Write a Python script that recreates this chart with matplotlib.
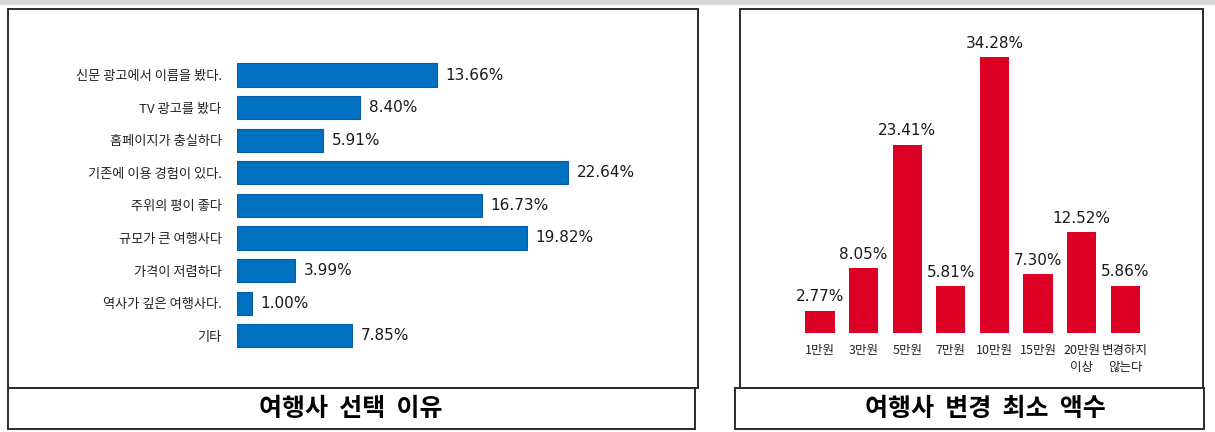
import matplotlib.pyplot as plt
from matplotlib.patches import Rectangle

plt.rcParams['font.family'] = ['Noto Sans CJK KR', 'DejaVu Sans']

# 여행사 선택 이유 (가로 막대)
reasons = ['신문 광고에서 이름을 봤다.', 'TV 광고를 봤다', '홈페이지가 충실하다',
           '기존에 이용 경험이 있다.', '주위의 평이 좋다', '규모가 큰 여행사다',
           '가격이 저렴하다', '역사가 깊은 여행사다.', '기타']
reason_pct = [13.66, 8.40, 5.91, 22.64, 16.73, 19.82, 3.99, 1.00, 7.85]

# 여행사 변경 최소 액수 (세로 막대)
amounts = ['1만원', '3만원', '5만원', '7만원', '10만원', '15만원', '20만원\n이상', '변경하지\n않는다']
amount_pct = [2.77, 8.05, 23.41, 5.81, 34.28, 7.30, 12.52, 5.86]

W, H = 1215, 432
fig = plt.figure(figsize=(W / 100, H / 100), dpi=100)


def fx(px):
    return px / W


def fy(py):
    return 1 - py / H


def box(x0, y0, x1, y1, lw=1.4):
    fig.add_artist(Rectangle((fx(x0), fy(y1)), fx(x1) - fx(x0), fy(y0) - fy(y1),
                             transform=fig.transFigure, fill=False,
                             edgecolor='#2b2b2b', linewidth=lw))


# thin grey strip along the top
fig.add_artist(Rectangle((0, fy(5)), 1, fy(0) - fy(5), transform=fig.transFigure,
                         facecolor='#d9d9d9', edgecolor='none'))

# panel frames and caption boxes
box(8, 9, 698, 388)
box(8, 388, 695, 429)
box(740, 9, 1203, 388)
box(735, 388, 1204, 429)

fig.text(fx(351), fy(409), '여행사  선택  이유', ha='center', va='center',
         fontsize=18, fontweight='bold')
fig.text(fx(985), fy(409), '여행사  변경  최소  액수', ha='center', va='center',
         fontsize=18, fontweight='bold')

# left: horizontal bars
top_px, bot_px = 10, 387
ax1 = fig.add_axes([fx(237), fy(bot_px), fx(690) - fx(237), fy(top_px) - fy(bot_px)])
ypos = list(range(len(reasons)))
ax1.barh(ypos, reason_pct, height=0.71, color='#0070c0', edgecolor='#0b5ca6', linewidth=0.8)
ax1.set_xlim(0, (690 - 237) / 14.63)
ax1.set_ylim((bot_px - 75) / 32.6, (top_px - 75) / 32.6)
ax1.set_yticks(ypos)
ax1.set_yticklabels(reasons, fontsize=9.5, color='#222222')
ax1.tick_params(axis='y', length=0, pad=11)
ax1.set_xticks([])
for s in ax1.spines.values():
    s.set_visible(False)
ax1.patch.set_alpha(0)
for y, v in zip(ypos, reason_pct):
    ax1.text(v + 0.6, y, f'{v:.2f}%', va='center', ha='left', fontsize=11,
             family='DejaVu Sans', color='#1a1a1a')

# right: vertical bars
base_px = 333
ax2 = fig.add_axes([fx(740), fy(base_px), fx(1203) - fx(740), fy(top_px) - fy(base_px)])
xpos = list(range(len(amounts)))
ax2.bar(xpos, amount_pct, width=0.67, color='#dc0024', edgecolor='none')
ax2.set_xlim((740 - 820) / 43.6, (1203 - 820) / 43.6)
ax2.set_ylim(0, (base_px - top_px) / 8.04)
ax2.set_xticks(xpos)
ax2.set_xticklabels(amounts, fontsize=9, color='#222222', linespacing=1.35)
ax2.tick_params(axis='x', length=0, pad=8)
ax2.set_yticks([])
for s in ax2.spines.values():
    s.set_visible(False)
ax2.patch.set_alpha(0)
for x, v in zip(xpos, amount_pct):
    ax2.text(x, v + 0.8, f'{v:.2f}%', ha='center', va='bottom', fontsize=11,
             family='DejaVu Sans', color='#1a1a1a')

fig.savefig('out.png', dpi=100)
